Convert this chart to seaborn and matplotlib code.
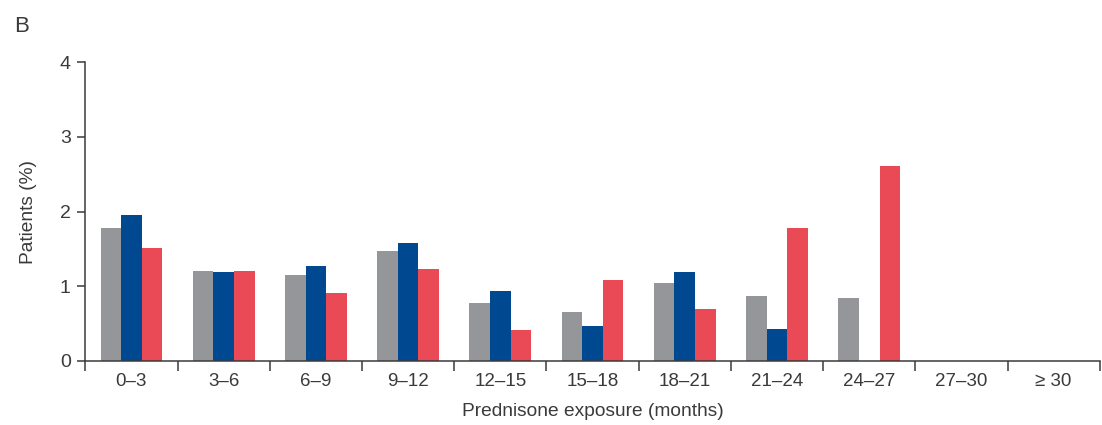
import matplotlib
matplotlib.use("Agg")
import matplotlib.pyplot as plt
import seaborn as sns
import pandas as pd
import numpy as np

# Prednisone exposure bins (months)
categories = ["0\u20133", "3\u20136", "6\u20139", "9\u201312", "12\u201315", "15\u201318",
              "18\u201321", "21\u201324", "24\u201327", "27\u201330", "\u2265 30"]

# Share of patients (%) per exposure bin, one list per group
group_gray = [1.78, 1.21, 1.15, 1.47, 0.78, 0.66, 1.04, 0.87, 0.84, 0.0, 0.0]
group_blue = [1.96, 1.19, 1.27, 1.58, 0.94, 0.47, 1.19, 0.43, 0.0, 0.0, 0.0]
group_red = [1.51, 1.21, 0.91, 1.23, 0.41, 1.08, 0.70, 1.78, 2.61, 0.0, 0.0]

groups = ["Group 1", "Group 2", "Group 3"]
colors = ["#959699", "#00488f", "#e94a56"]

df = pd.DataFrame({
    "exposure": categories * 3,
    "patients": group_gray + group_blue + group_red,
    "group": [groups[0]] * len(categories) + [groups[1]] * len(categories) + [groups[2]] * len(categories),
})

sns.set_theme(style="white")
plt.rcParams["font.family"] = ["Liberation Sans", "DejaVu Sans"]

text_color = "#3a3a3a"

fig = plt.figure(figsize=(11.02, 4.25), dpi=100)
ax = fig.add_axes([0.0774, 0.1506, 0.9206, 0.7028])

sns.barplot(data=df, x="exposure", y="patients", hue="group", order=categories,
            hue_order=groups, palette=colors, saturation=1, width=0.67, linewidth=0,
            legend=False, ax=ax)

ax.set_ylim(0, 4)
ax.set_xlim(-0.5, len(categories) - 0.5)
ax.set_yticks([0, 1, 2, 3, 4])

# Tick marks sit on the bin boundaries; labels stay centred under each bin
ax.set_xticks(np.arange(len(categories)))
ax.set_xticklabels(categories)
ax.set_xticks(np.arange(-0.5, len(categories)), minor=True)
ax.tick_params(axis="x", which="major", length=0, pad=9, labelsize=13.5, labelcolor=text_color)
ax.tick_params(axis="x", which="minor", length=7, width=1.1, color=text_color, direction="out")
ax.tick_params(axis="y", which="major", length=5.5, width=1.1, color=text_color,
               direction="out", pad=5, labelsize=14, labelcolor=text_color)
ax.tick_params(bottom=True, left=True, which="both")
ax.tick_params(axis="x", which="major", bottom=False)

for side in ["top", "right"]:
    ax.spines[side].set_visible(False)
for side in ["left", "bottom"]:
    ax.spines[side].set_color(text_color)
    ax.spines[side].set_linewidth(1.1)

ax.set_xlabel("Prednisone exposure (months)", fontsize=13.8, color=text_color, labelpad=9)
ax.set_ylabel("Patients (%)", fontsize=13.8, color=text_color, labelpad=16)

fig.text(0.013, 0.925, "B", fontsize=16, color=text_color, ha="left", va="baseline")

fig.savefig("out.png", dpi=100, facecolor="white")
